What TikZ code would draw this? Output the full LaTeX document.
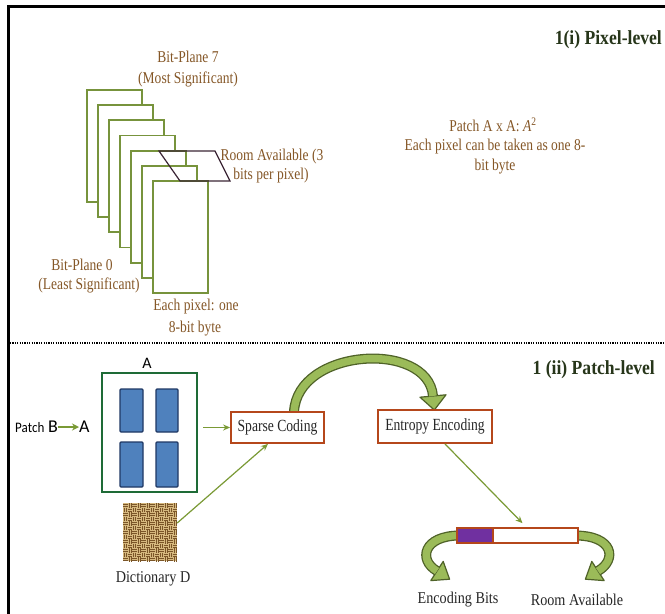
\documentclass[tikz,border=0pt]{standalone}
\usepackage{graphicx}
\usepackage{fontspec}
\setmainfont{Liberation Serif}
\newfontfamily\sansf{Carlito}
\usetikzlibrary{arrows.meta}
\newcommand{\condtxt}[1]{\scalebox{0.82}[1]{#1}}
\newcommand{\condlbl}[1]{\scalebox{0.86}[1]{#1}}
\newcommand{\condbox}[1]{\scalebox{0.8}[1]{#1}}
\newcommand{\condttl}[1]{\scalebox{0.88}[1]{#1}}
\definecolor{brn}{HTML}{855727}
\definecolor{plgreen}{HTML}{77933C}
\definecolor{ttl}{HTML}{27361A}
\definecolor{agreen}{HTML}{9BBB59}
\definecolor{adark}{HTML}{4F6228}
\definecolor{boxor}{HTML}{B5471B}
\definecolor{barpur}{HTML}{7030A0}
\definecolor{bluef}{HTML}{4F81BD}
\definecolor{blued}{HTML}{1F3864}
\definecolor{boxgr}{HTML}{1E6B36}
\definecolor{thinarr}{HTML}{7A9A35}
\definecolor{dictbg}{HTML}{D6B97F}
\definecolor{dictln}{HTML}{7A5528}
\definecolor{parc}{HTML}{3B2535}
\tikzset{
 txt/.style={font=\fontsize{16.5}{18}\selectfont, text=brn, inner sep=0},
 lbl/.style={font=\fontsize{16.5}{18}\selectfont, text=black!85, inner sep=0},
 ttlstyle/.style={font=\fontsize{20}{22}\selectfont\bfseries, text=ttl, inner sep=0},
 plane/.style={draw=plgreen, fill=white, line width=1.8pt, minimum width=55pt, minimum height=112pt, inner sep=0},
 procbox/.style={draw=boxor, fill=white, line width=1.8pt, inner sep=0, font=\fontsize{17}{18}\selectfont, text=black!85},
 thinarrow/.style={draw=thinarr, line width=1.2pt, -{Stealth[length=7pt,width=6pt]}},
 blk/.style={draw=blued, fill=bluef, line width=1.2pt, rounded corners=1pt, inner sep=0},
 shaftout/.style={draw=adark, line width=10pt},
 shaftin/.style={draw=agreen, line width=7.4pt},
 headstyle/.style={fill=agreen, draw=adark, line width=1.2pt, line join=round},
 weave/.style={draw=dictln, line width=0.6pt},
}
\begin{document}
\begin{tikzpicture}[x=1pt,y=-1pt]
\fill[white] (0,0) rectangle (665,614);
\useasboundingbox (0,0) rectangle (665,614);
% frame
\draw[line width=3pt] (8.5,614) -- (8.5,6) -- (665,6);

% ---------- Pixel level ----------
\foreach \i in {0,...,6}
  \node[plane] (pl\i) at (114.5+11*\i, 146+15.17*\i) {};
\draw[draw=parc, line width=1.2pt] (159,151) -- (215,151) -- (230,181) -- (180,181) -- cycle;

\node[txt] (t7a) at (188,57) {\condtxt{Bit-Plane 7}};
\node[txt] (t7b) at (188,79) {\condtxt{(Most Significant)}};
\node[txt] (room1) at (272,157) {\condtxt{Room Available (3}};
\node[txt] (room2) at (271,176) {\condtxt{bits per pixel)}};
\node[txt] (t0a) at (82,265) {\condtxt{Bit-Plane 0}};
\node[txt] (t0b) at (89,285) {\condtxt{(Least Significant)}};
\node[txt] (each1) at (196,307) {\condtxt{Each pixel: one}};
\node[txt] (each2) at (195,329) {\condtxt{8-bit byte}};
\node[ttlstyle, anchor=east] (title1) at (662,40) {\condttl{1(i) Pixel-level}};
\node[txt] (patch1) at (493,125) {\condtxt{Patch A x A: \textit{A}\textsuperscript{2}}};
\node[txt] (patch2) at (495,147) {\condtxt{Each pixel can be taken as one 8-}};
\node[txt] (patch3) at (495,167) {\condtxt{bit byte}};

% separator
\draw[line width=1.6pt, dash pattern=on 1.2pt off 1.2pt] (10,343) -- (665,343);

% ---------- Patch level ----------
\node[ttlstyle, anchor=east] (title2) at (655,370) {\condttl{1 (ii) Patch-level}};

\node[font=\sansf\fontsize{14.5}{15}\selectfont, inner sep=0, anchor=west] (pt) at (15,428) {\scalebox{0.9}[1]{Patch}};
\node[font=\sansf\fontsize{18}{18}\selectfont, inner sep=0, anchor=west] (pB) at (48,427) {B};
\node[font=\sansf\fontsize{18}{18}\selectfont, inner sep=0, anchor=west] (pA) at (79,427) {A};
\draw[draw=thinarr, line width=1.8pt, -{Stealth[length=7pt,width=7pt]}] (pB.east) -- (pA.west);

\node[font=\sansf\fontsize{16}{16}\selectfont, inner sep=0] (lblA) at (147,363) {A};
\node[draw=boxgr, line width=2pt, minimum width=95pt, minimum height=119pt, inner sep=0] (boxA) at (149.5,432.5) {};
\node[blk, minimum width=23pt, minimum height=43pt] (b1) at (131.5,410.5) {};
\node[blk, minimum width=22pt, minimum height=43pt] (b2) at (167,410.5) {};
\node[blk, minimum width=23pt, minimum height=45pt] (b3) at (131.5,464.5) {};
\node[blk, minimum width=22pt, minimum height=45pt] (b4) at (167,464.5) {};

% dictionary texture
\node[fill=dictbg, minimum width=54pt, minimum height=58pt, inner sep=0] (dict) at (150,532) {};
\begin{scope}
\clip (123,503) rectangle (177,561);
\foreach \i in {0,...,11}{
 \foreach \j in {0,...,12}{
  \pgfmathtruncatemacro{\m}{mod(\i+\j,2)}
  \ifnum\m=0
   \draw[weave] (123+4.5*\i,503+4.5*\j+1.3) -- ++(4.5,0);
   \draw[weave] (123+4.5*\i,503+4.5*\j+3.3) -- ++(4.5,0);
  \else
   \draw[weave] (123+4.5*\i+1.3,503+4.5*\j) -- ++(0,4.5);
   \draw[weave] (123+4.5*\i+3.3,503+4.5*\j) -- ++(0,4.5);
  \fi
 }}
\end{scope}
\node[lbl] (dictlbl) at (153,579) {\condlbl{Dictionary D}};

% big curved arrow
\coordinate (ca) at (294,412);
\coordinate (cb) at (433,396);
\fill[headstyle] (420,397.2) -- (446,394.8) -- (434.3,410) -- cycle;
\draw[shaftout] (ca) .. controls (297,348) and (428,340) .. (cb);
\draw[shaftin] (ca) .. controls (297,348) and (428,340) .. (cb);

\node[procbox, minimum width=93pt, minimum height=31pt] (sparse) at (277.5,427.5) {\condbox{Sparse Coding}};
\node[procbox, minimum width=114pt, minimum height=33pt] (entropy) at (435,426.5) {\condbox{Entropy Encoding}};

\coordinate (boxAe) at ([xshift=5pt]boxA.east);
\draw[thinarrow] (boxAe |- sparse.west) -- (sparse.west);
\draw[thinarrow] ([yshift=9pt]dict.east) -- ([xshift=-9.5pt]sparse.south);

% bottom curved arrows
\coordinate (l1) at (460,535.5);
\coordinate (l2) at (437,571);
\fill[headstyle] (430.8,580.6) -- (443.2,561.4) -- (449.6,579.2) -- cycle;
\draw[shaftout] (l1) .. controls (423,535.5) and (418,560) .. (l2);
\draw[shaftin] (l1) .. controls (423,535.5) and (418,560) .. (l2);
\coordinate (r1) at (575,535.5);
\coordinate (r2) at (598,571);
\fill[headstyle] (604.2,580.6) -- (591.8,561.4) -- (585.4,579.2) -- cycle;
\draw[shaftout] (r1) .. controls (614,535.5) and (617,560) .. (r2);
\draw[shaftin] (r1) .. controls (614,535.5) and (617,560) .. (r2);

\node[draw=boxor, fill=barpur, line width=1.6pt, minimum width=36pt, minimum height=15pt, inner sep=0] (barp) at (475,535.5) {};
\node[draw=boxor, fill=white, line width=1.6pt, minimum width=85pt, minimum height=15pt, inner sep=0] (barw) at (535.5,535.5) {};
\draw[thinarrow] ([xshift=10pt]entropy.south) -- ([xshift=-13pt,yshift=4pt]barw.north);

\node[lbl] (encl) at (458,600) {\condlbl{Encoding Bits}};
\node[lbl] (rooml) at (577,600) {\condlbl{Room Available}};
\end{tikzpicture}
\end{document}
